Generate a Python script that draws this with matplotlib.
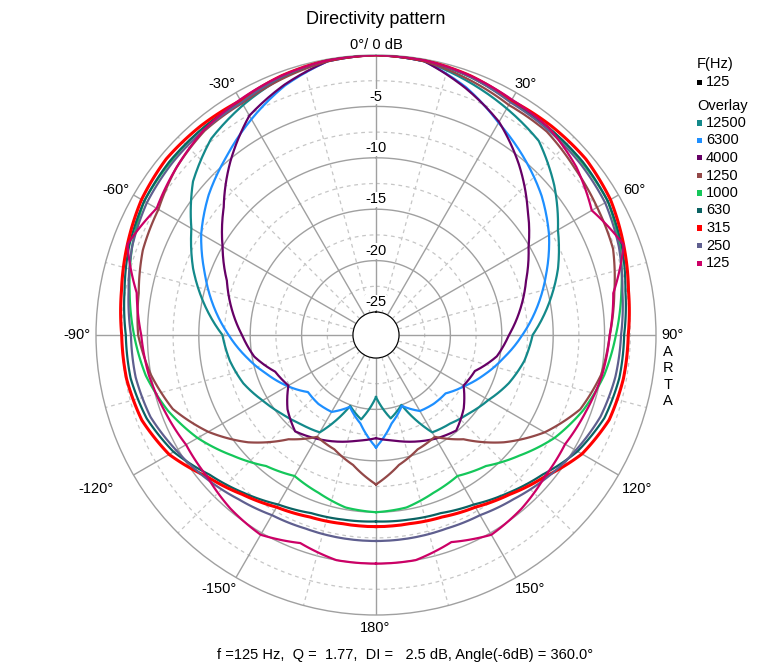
import numpy as np
import matplotlib
matplotlib.use("Agg")
import matplotlib.pyplot as plt
from matplotlib.patches import Rectangle

plt.rcParams['font.family'] = ['Liberation Sans', 'DejaVu Sans']

# ---------------- data ----------------
angles_deg = np.arange(-180, 181, 10)   # -180 ... 180

freq_labels = ["12500", "6300", "4000", "1250", "1000", "630", "315", "250", "125"]
colors = ["#13898a", "#1e8fff", "#660066", "#934848", "#14c75a", "#0a6262",
          "#ff0000", "#5f5f8f", "#cc0066"]

db_12500 = [-21.2, -18.9, -19.9, -16.3, -15.9, -15.3, -14.5, -13.5, -12.8, -12.3, -10.3, -8.3, -6.5, -4.0, -2.3, -1.4, -0.6, -0.1,
            0.0, -0.2, -1.0, -1.8, -2.6, -4.6, -6.8, -8.4, -10.2, -12.0, -12.6, -13.5, -14.6, -15.4, -16.0, -16.3, -20.0, -19.0, -21.2]
db_6300 = [-16.3, -18.5, -19.8, -18.6, -18.5, -18.6, -17.3, -16.0, -14.5, -12.9, -11.2, -9.5, -7.6, -6.0, -4.6, -3.0, -1.4, -0.2,
           0.0, -0.2, -1.6, -3.4, -4.8, -6.2, -7.8, -9.6, -11.3, -13.0, -14.6, -16.0, -17.3, -18.4, -18.5, -18.7, -19.9, -18.5, -16.3]
db_4000 = [-17.2, -16.8, -16.2, -15.6, -15.0, -16.0, -17.4, -16.8, -15.2, -14.2, -13.0, -11.8, -10.0, -7.9, -5.2, -2.6, -1.3, -0.2,
           0.0, -0.2, -1.7, -3.3, -5.6, -8.0, -10.1, -11.7, -13.0, -14.3, -15.3, -17.0, -17.4, -16.1, -15.1, -15.6, -16.2, -16.8, -17.2]
db_1250 = [-12.7, -14.4, -15.4, -15.8, -14.0, -11.0, -8.4, -6.2, -5.0, -4.1, -3.8, -3.1, -2.8, -1.9, -1.3, -1.2, -0.7, -0.2,
           0.0, -0.2, -0.8, -1.4, -1.4, -2.0, -2.4, -2.7, -3.7, -4.5, -5.0, -6.1, -8.3, -11.0, -14.0, -15.8, -15.4, -14.4, -12.7]
db_1000 = [-10.0, -10.2, -10.9, -11.4, -10.6, -9.0, -7.2, -5.7, -4.5, -3.7, -2.9, -2.0, -1.2, -1.1, -1.0, -1.0, -0.5, -0.1,
           0.0, -0.1, -0.5, -1.0, -1.0, -1.1, -1.2, -2.0, -3.0, -3.9, -4.7, -5.8, -7.2, -9.0, -10.6, -11.4, -10.9, -10.2, -10.0]
db_630 = [-9.1, -9.0, -8.8, -8.2, -7.2, -6.1, -4.5, -3.5, -3.0, -2.9, -2.4, -1.7, -1.2, -1.0, -1.0, -1.0, -0.5, -0.1,
          0.0, -0.1, -0.5, -1.0, -1.0, -1.0, -1.2, -1.8, -2.6, -3.1, -3.2, -3.6, -4.6, -6.1, -7.2, -8.2, -8.8, -9.0, -9.1]
db_315 = [-8.6, -8.6, -8.4, -7.9, -7.0, -5.8, -4.0, -3.0, -2.6, -2.5, -2.1, -1.5, -0.9, -0.6, -0.7, -0.9, -0.4, -0.1,
          0.0, -0.1, -0.4, -0.9, -0.7, -0.6, -0.9, -1.6, -2.3, -2.7, -2.8, -3.1, -4.1, -5.8, -7.0, -7.9, -8.4, -8.6, -8.6]
db_250 = [-7.2, -7.2, -7.2, -7.0, -6.4, -5.6, -4.8, -3.9, -3.5, -3.4, -2.8, -2.0, -1.5, -1.3, -1.2, -1.1, -0.5, -0.1,
          0.0, -0.1, -0.5, -1.1, -1.2, -1.3, -1.5, -2.1, -2.9, -3.4, -3.6, -4.0, -4.8, -5.6, -6.4, -7.0, -7.2, -7.2, -7.2]
db_125 = [-5.0, -5.0, -5.7, -4.8, -5.2, -5.8, -5.9, -5.4, -4.8, -4.4, -3.6, -1.5, -2.6, -1.9, -1.2, -0.8, -0.4, -0.1,
          0.0, -0.1, -0.4, -0.8, -1.0, -1.8, -3.0, -1.6, -3.8, -4.5, -4.9, -5.5, -6.0, -5.8, -5.2, -4.8, -5.8, -5.0, -5.0]

series = [db_12500, db_6300, db_4000, db_1250, db_1000, db_630, db_315, db_250, db_125]

ring_levels = [-5, -10, -15, -20, -25]
ring_labels = ["-5", "-10", "-15", "-20", "-25"]
angle_ticks = [0, 30, 60, 90, 120, 150, 180, -150, -120, -90, -60, -30]

title = "Directivity pattern"
footer = "f =125 Hz,  Q =  1.77,  DI =   2.5 dB, Angle(-6dB) = 360.0\u00b0"

# ---------------- figure ----------------
W, H = 760, 667
fig = plt.figure(figsize=(W / 100, H / 100), dpi=100)
fig.patch.set_facecolor("white")

cx, cy, R = 376, 335, 280
ax = fig.add_axes([(cx - R) / W, (H - (cy + R)) / H, 2 * R / W, 2 * R / H], projection="polar")
ax.set_theta_zero_location("N")
ax.set_theta_direction(-1)
ax.set_ylim(-25, 0)
ax.set_rorigin(-25 - 23 / 10.28)
ax.grid(False)
ax.set_xticks([])
ax.set_yticks([])
ax.spines["polar"].set_color("#a0a0a0")
ax.spines["polar"].set_linewidth(1.0)
for k in ("inner", "start", "end"):
    if k in ax.spines:
        ax.spines[k].set_visible(False)

full = np.linspace(0, 2 * np.pi, 721)
solid_c, dash_c = "#a0a0a0", "#c6c6c6"
for lv in ring_levels:
    ax.plot(full, np.full_like(full, lv), color=solid_c, lw=1.0, zorder=1)
for lv in [-2.5, -7.5, -12.5, -17.5, -22.5]:
    ax.plot(full, np.full_like(full, lv), color=dash_c, lw=0.9, ls=(0, (3, 3)), zorder=1)
for a in range(0, 360, 30):
    ax.plot([np.deg2rad(a)] * 2, [-25, 0], color=solid_c, lw=1.0, zorder=1)
for a in range(15, 360, 30):
    ax.plot([np.deg2rad(a)] * 2, [-25, 0], color=dash_c, lw=0.9, ls=(0, (3, 3)), zorder=1)

th = np.deg2rad(angles_deg)
for vals, col in zip(series, colors):
    lw = 2.2 if col == "#ff0000" else 1.6
    line, = ax.plot(th, vals, color=col, lw=lw, zorder=3, solid_joinstyle="round")
    # draw each segment along the polar grid (arc-like) instead of a straight chord
    line.get_path()._interpolation_steps = 16

# radial labels on the 0-degree spoke
for lv, lab in zip(ring_levels, ring_labels):
    ax.text(0, lv + 0.95, lab, ha="center", va="center", fontsize=10.5, zorder=5,
            bbox=dict(boxstyle="square,pad=0.05", fc="white", ec="none"))

# angle labels (pixel positions)
angle_pos = {0: (376, 45), 30: (526, 84), 60: (634, 190), 90: (672, 335),
             120: (637, 489), 150: (530, 589), 180: (375, 628),
             -150: (219, 589), -120: (96, 489), -90: (77, 335),
             -60: (116, 190), -30: (222, 84)}
for a in angle_ticks:
    x, y = angle_pos[a]
    lab = "0\u00b0/ 0 dB" if a == 0 else f"{a}\u00b0"
    fig.text(x / W, 1 - y / H, lab, ha="center", va="center", fontsize=10.5)

fig.text(376 / W, 1 - 19 / H, title, ha="center", va="center", fontsize=13)
fig.text(405 / W, 1 - 655 / H, footer, ha="center", va="center", fontsize=10.5)

# ARTA vertical label
for i, ch in enumerate("ARTA"):
    fig.text(668 / W, 1 - (352 + 16.4 * i) / H, ch, ha="center", va="center", fontsize=10.5)

# legend
fig.text(697 / W, 1 - 64 / H, "F(Hz)", ha="left", va="center", fontsize=10.5)
fig.patches.append(Rectangle(((697) / W, 1 - 85 / H), 5 / W, 5 / H, transform=fig.transFigure,
                             fc="black", ec="none"))
fig.text(706 / W, 1 - 82 / H, "125", ha="left", va="center", fontsize=10.5)
fig.text(697 / W, 1 - 106 / H, "Overlay", ha="left", va="center", fontsize=10.5)
for i, (lab, col) in enumerate(zip(freq_labels, colors)):
    y = 123 + 17.5 * i
    fig.patches.append(Rectangle((697 / W, 1 - (y + 2.5) / H), 5 / W, 5 / H,
                                 transform=fig.transFigure, fc=col, ec="none"))
    fig.text(706 / W, 1 - y / H, lab, ha="left", va="center", fontsize=10.5)

fig.savefig("out.png", dpi=100, facecolor="white")
